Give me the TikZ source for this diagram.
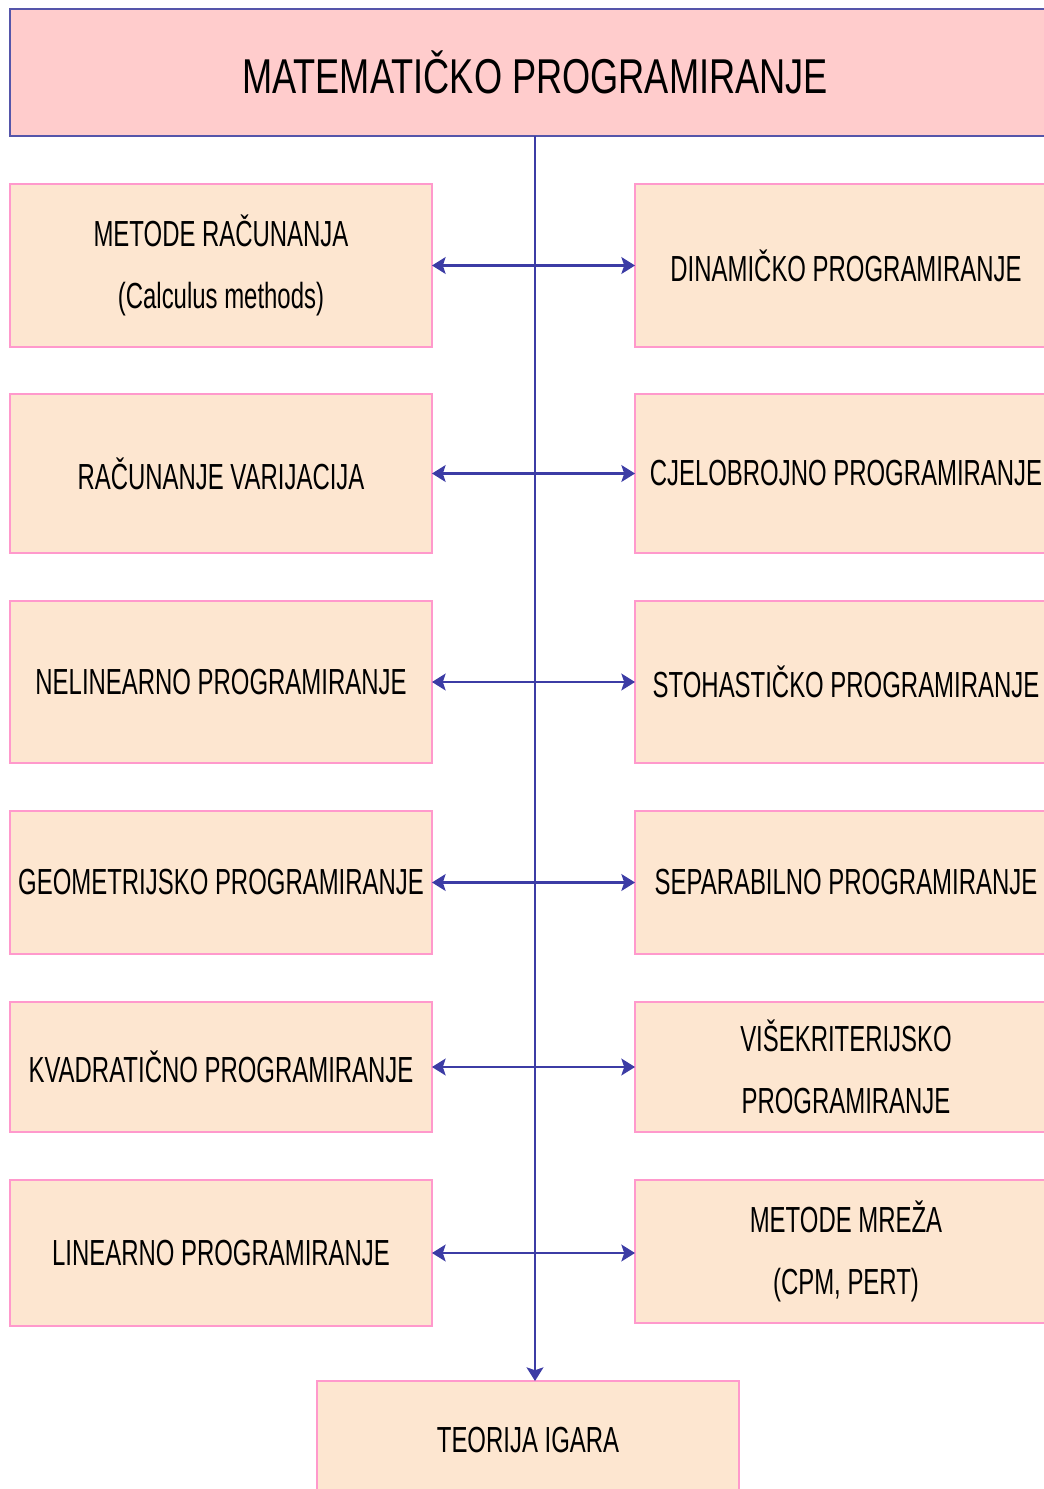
\documentclass[tikz,border=0pt]{standalone}
\usepackage{fontspec}
\setmainfont{Liberation Sans}[FakeStretch=0.66]
\newfontfamily\headfont{Liberation Sans}[FakeStretch=0.74]
\usetikzlibrary{positioning,arrows.meta}
\definecolor{boxfill}{RGB}{253,230,208}
\definecolor{boxline}{RGB}{255,153,204}
\definecolor{headfill}{RGB}{255,204,204}
\definecolor{headline}{RGB}{85,85,170}
\definecolor{linkblue}{RGB}{60,60,165}

\begin{document}
\begin{tikzpicture}
		[box/.style={rectangle,draw=boxline,fill=boxfill,line width=1.4pt,inner sep=0pt,outer sep=0pt,minimum width=10.55cm,align=center,font=\fontsize{25.8}{44}\selectfont},
		head/.style={rectangle,draw=headline,fill=headfill,line width=1.8pt,inner sep=0pt,outer sep=0pt,minimum width=26.25cm,minimum height=3.175cm,font=\headfont\fontsize{34.8}{40}\selectfont},
		link/.style={draw=linkblue,line width=1.6pt},
		tip/.tip={Stealth[length=0.34cm,width=0.42cm,inset=0.07cm]}]
		\useasboundingbox (0,0) rectangle (26.1,-37.225);
		\clip (0,0) rectangle (26.1,-37.225);
		\node [head] (mp) at (13.375,-1.8125) {MATEMATIČKO PROGRAMIRANJE};

		\node [box,minimum height=4.075cm] (l1) [below=1.2cm of mp.south west,anchor=north west] {METODE RAČUNANJA\\(Calculus methods)};
		\node [box,minimum height=3.975cm] (l2) [below=1.175cm of l1.south west,anchor=north west] {RAČUNANJE VARIJACIJA};
		\node [box,minimum height=4.05cm] (l3) [below=1.2cm of l2.south west,anchor=north west] {NELINEARNO PROGRAMIRANJE};
		\node [box,minimum height=3.575cm] (l4) [below=1.2cm of l3.south west,anchor=north west] {GEOMETRIJSKO PROGRAMIRANJE};
		\node [box,minimum height=3.25cm] (l5) [below=1.2cm of l4.south west,anchor=north west] {KVADRATIČNO PROGRAMIRANJE};
		\node [box,minimum height=3.65cm] (l6) [below=1.2cm of l5.south west,anchor=north west] {LINEARNO PROGRAMIRANJE};

		\node [box,minimum height=4.075cm] (r1) [right=5.075cm of l1.north east,anchor=north west] {DINAMIČKO PROGRAMIRANJE};
		\node [box,minimum height=3.975cm] (r2) [right=5.075cm of l2.north east,anchor=north west] {CJELOBROJNO PROGRAMIRANJE};
		\node [box,minimum height=4.05cm] (r3) [right=5.075cm of l3.north east,anchor=north west] {STOHASTIČKO PROGRAMIRANJE};
		\node [box,minimum height=3.575cm] (r4) [right=5.075cm of l4.north east,anchor=north west] {SEPARABILNO PROGRAMIRANJE};
		\node [box,minimum height=3.25cm] (r5) [right=5.075cm of l5.north east,anchor=north west] {VIŠEKRITERIJSKO\\PROGRAMIRANJE};
		\node [box,minimum height=3.575cm] (r6) [right=5.075cm of l6.north east,anchor=north west] {METODE MREŽA\\(CPM, PERT)};

		\node [box,minimum height=2.95cm,anchor=north] (tg) at (13.2,-34.525) {TEORIJA IGARA};

		\draw [link,-tip] (mp.south) -- (mp.south |- tg.north);
		\foreach \i in {1,...,6}
			\draw [link,tip-tip] (l\i.east) -- (l\i.east -| r\i.west);

	\end{tikzpicture}
\end{document}
